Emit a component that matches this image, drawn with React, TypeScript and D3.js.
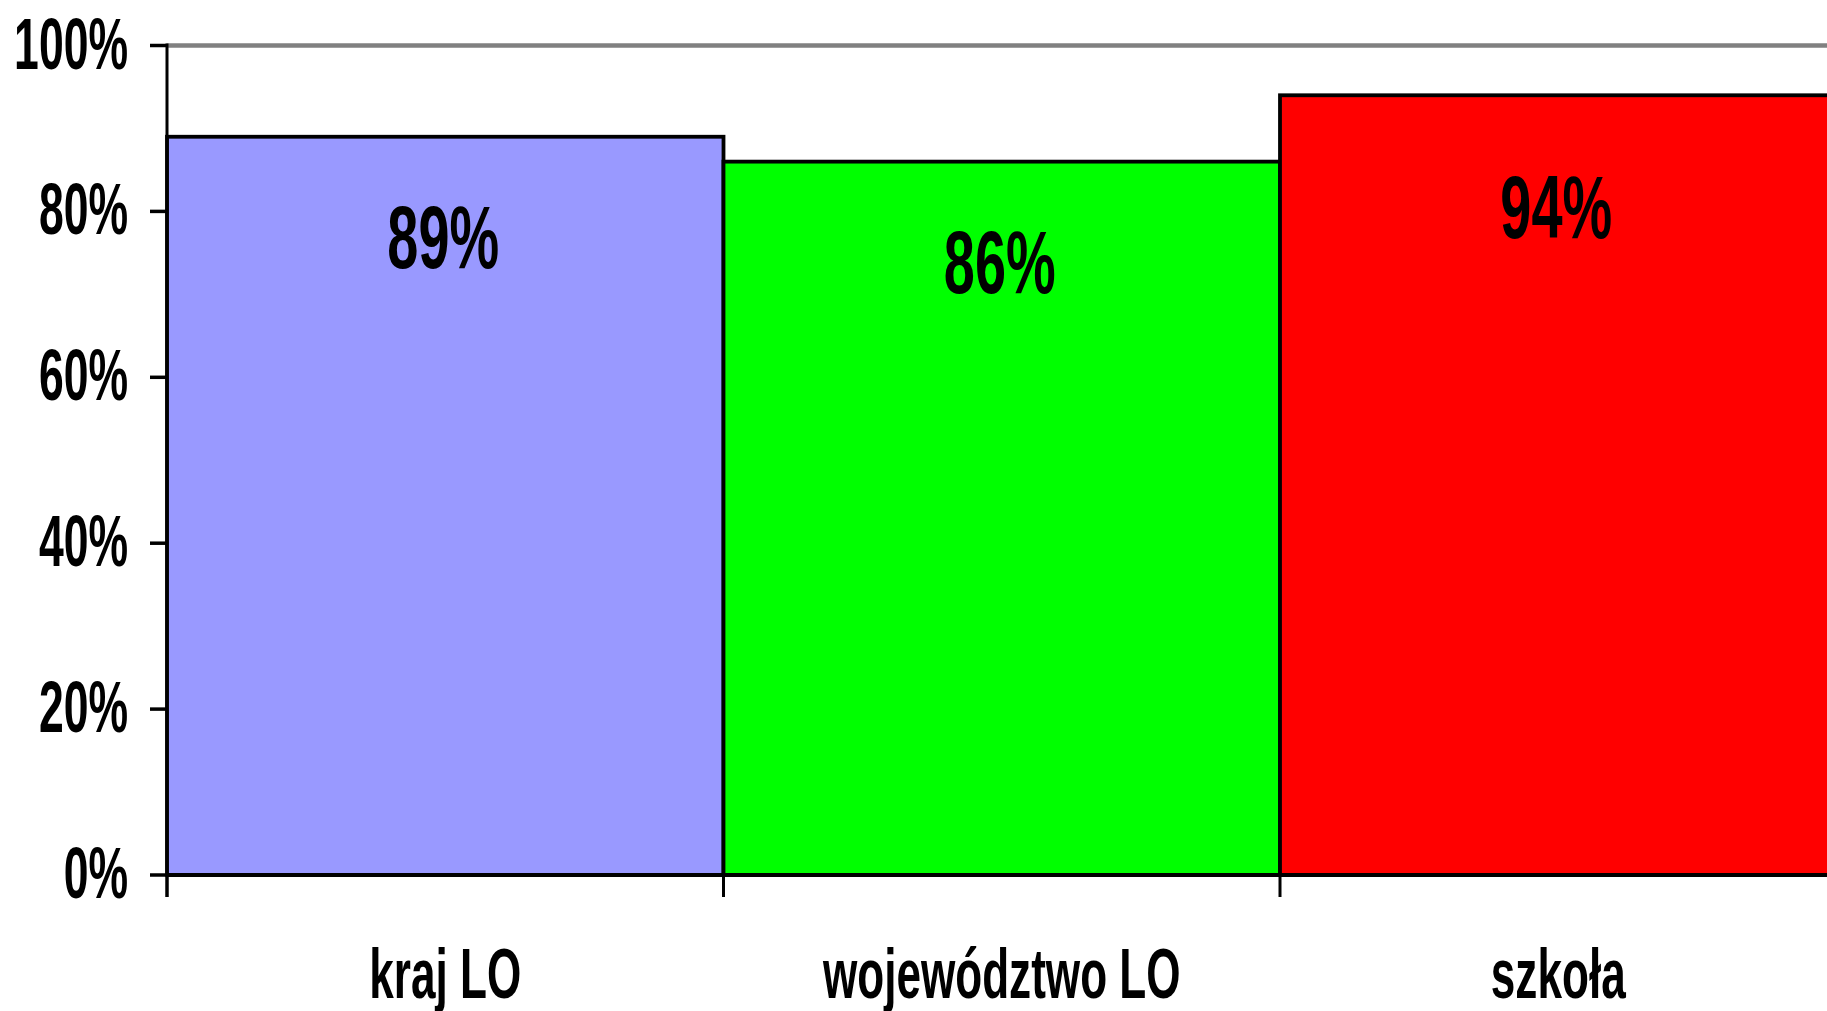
import React from "react";
import * as d3 from "d3";

const categories = ["kraj LO", "województwo LO", "szkoła"];
const values = [0.89, 0.86, 0.94];
const barColors = ["#9999FF", "#00FF00", "#FF0000"];
const yTicks = [0, 0.2, 0.4, 0.6, 0.8, 1.0];

const W = 1827;
const H = 1011;
const FONT = "'Liberation Sans', Arial, sans-serif";
const SX = 0.61;

export default function App() {
  const x = d3.scaleBand<string>().domain(categories).range([167, 167 + 3 * 556.5]).paddingInner(0).paddingOuter(0);
  const y = d3.scaleLinear().domain([0, 1]).range([875, 45.5]);
  const fmt = d3.format(".0%");
  const bw = x.bandwidth();
  const boundaries = [...categories.map((c) => x(c) as number), (x(categories[categories.length - 1]) as number) + bw];

  return (
    <svg width={W} height={H} style={{ position: "absolute", left: 0, top: 0, background: "#fff" }}>
      {/* 100% gridline */}
      <line x1={167} x2={W} y1={y(1)} y2={y(1)} stroke="#808080" strokeWidth={4.5} />
      {/* bars */}
      {categories.map((c, i) => (
        <rect
          key={c}
          x={x(c) as number}
          y={y(values[i])}
          width={bw}
          height={y(0) - y(values[i])}
          fill={barColors[i]}
          stroke="#000"
          strokeWidth={3.8}
        />
      ))}
      {/* value labels */}
      {categories.map((c, i) => {
        const cx = (x(c) as number) + bw / 2;
        const by = Math.max(y(values[i]) + 131, 238);
        return (
          <text
            key={"v" + c}
            transform={`translate(${cx - 2},${by}) scale(0.635,1)`}
            textAnchor="middle"
            fontFamily={FONT}
            fontWeight="bold"
            fontSize={88}
            fill="#000"
          >
            {fmt(values[i])}
          </text>
        );
      })}
      {/* x axis */}
      <line x1={167} x2={W} y1={y(0)} y2={y(0)} stroke="#000" strokeWidth={4} />
      {boundaries.map((bx, i) => (
        <line key={"xt" + i} x1={bx} x2={bx} y1={y(0)} y2={897} stroke="#000" strokeWidth={3} />
      ))}
      {/* y axis */}
      <line x1={167} x2={167} y1={y(1) - 2} y2={897} stroke="#000" strokeWidth={3} />
      {yTicks.map((t) => (
        <g key={"yt" + t}>
          <line x1={150} x2={167} y1={y(t)} y2={y(t)} stroke="#000" strokeWidth={3.5} />
          <text
            transform={`translate(128,${y(t) + 23}) scale(${SX},1)`}
            textAnchor="end"
            fontFamily={FONT}
            fontWeight="bold"
            fontSize={73}
            fill="#000"
          >
            {fmt(t)}
          </text>
        </g>
      ))}
      {/* category labels */}
      {categories.map((c) => (
        <text
          key={"c" + c}
          transform={`translate(${(x(c) as number) + bw / 2},998) scale(0.63,1)`}
          textAnchor="middle"
          fontFamily={FONT}
          fontWeight="bold"
          fontSize={70}
          fill="#000"
        >
          {c}
        </text>
      ))}
    </svg>
  );
}
